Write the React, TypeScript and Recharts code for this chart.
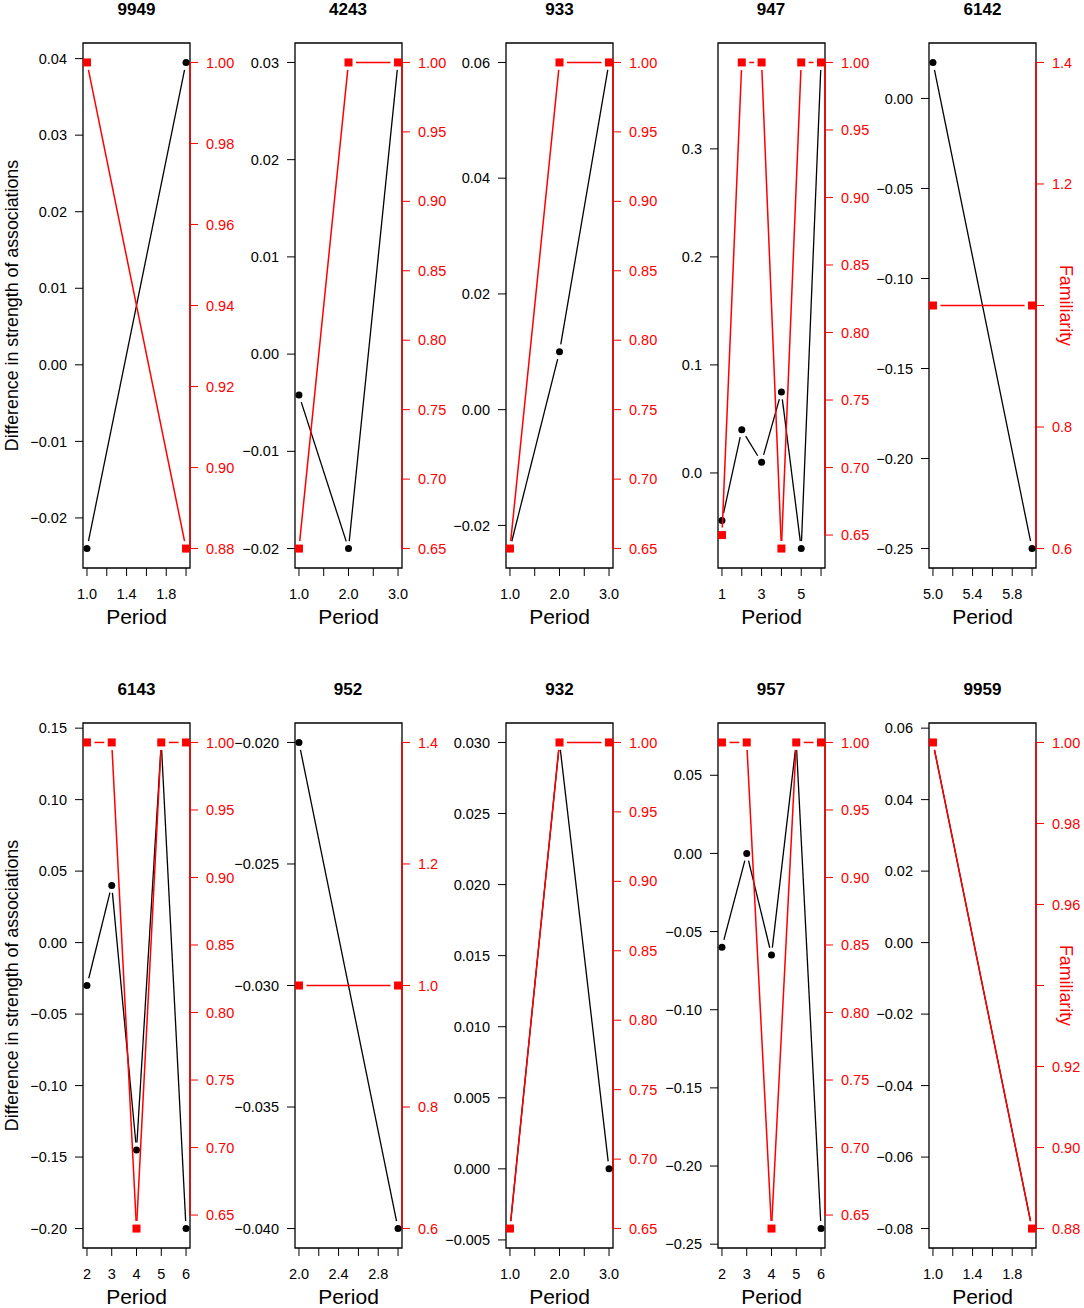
import React from "react";
import {
  LineChart,
  Line,
  XAxis,
  YAxis,
  ReferenceArea,
  ReferenceLine,
} from "recharts";

const ids = ["9949", "4243", "933", "947", "6142", "6143", "952", "932", "957", "9959"];

const periods = [
  [1, 2],
  [1, 2, 3],
  [1, 2, 3],
  [1, 2, 3, 4, 5, 6],
  [5, 6],
  [2, 3, 4, 5, 6],
  [2, 3],
  [1, 2, 3],
  [2, 3, 4, 5, 6],
  [1, 2],
];

// difference in strength of associations (black)
const diffs = [
  [-0.024, 0.0395],
  [-0.0042, -0.02, 0.03],
  [-0.024, 0.01, 0.06],
  [-0.044, 0.04, 0.01, 0.075, -0.07, 0.38],
  [0.02, -0.25],
  [-0.03, 0.04, -0.145, 0.14, -0.2],
  [-0.02, -0.04],
  [-0.0042, 0.03, 0.0],
  [-0.06, 0.0, -0.065, 0.071, -0.24],
  [0.056, -0.08],
];

// familiarity (red)
const fams = [
  [1.0, 0.88],
  [0.65, 1.0, 1.0],
  [0.65, 1.0, 1.0],
  [0.65, 1.0, 1.0, 0.64, 1.0, 1.0],
  [1.0, 1.0],
  [1.0, 1.0, 0.64, 1.0, 1.0],
  [1.0, 1.0],
  [0.65, 1.0, 1.0],
  [1.0, 1.0, 0.64, 1.0, 1.0],
  [1.0, 0.88],
];

const xTicks = [
  [1.0, 1.2, 1.4, 1.6, 1.8, 2.0],
  [1.0, 1.5, 2.0, 2.5, 3.0],
  [1.0, 1.5, 2.0, 2.5, 3.0],
  [1, 2, 3, 4, 5, 6],
  [5.0, 5.2, 5.4, 5.6, 5.8, 6.0],
  [2, 3, 4, 5, 6],
  [2.0, 2.2, 2.4, 2.6, 2.8, 3.0],
  [1.0, 1.5, 2.0, 2.5, 3.0],
  [2, 3, 4, 5, 6],
  [1.0, 1.2, 1.4, 1.6, 1.8, 2.0],
];
const xTickLabels = [
  ["1.0", "", "1.4", "", "1.8", ""],
  ["1.0", "", "2.0", "", "3.0"],
  ["1.0", "", "2.0", "", "3.0"],
  ["1", "", "3", "", "5", ""],
  ["5.0", "", "5.4", "", "5.8", ""],
  ["2", "3", "4", "5", "6"],
  ["2.0", "", "2.4", "", "2.8", ""],
  ["1.0", "", "2.0", "", "3.0"],
  ["2", "3", "4", "5", "6"],
  ["1.0", "", "1.4", "", "1.8", ""],
];

const leftTicks = [
  [-0.02, -0.01, 0, 0.01, 0.02, 0.03, 0.04],
  [-0.02, -0.01, 0, 0.01, 0.02, 0.03],
  [-0.02, 0, 0.02, 0.04, 0.06],
  [0, 0.1, 0.2, 0.3],
  [-0.25, -0.2, -0.15, -0.1, -0.05, 0],
  [-0.2, -0.15, -0.1, -0.05, 0, 0.05, 0.1, 0.15],
  [-0.04, -0.035, -0.03, -0.025, -0.02],
  [-0.005, 0, 0.005, 0.01, 0.015, 0.02, 0.025, 0.03],
  [-0.25, -0.2, -0.15, -0.1, -0.05, 0, 0.05],
  [-0.08, -0.06, -0.04, -0.02, 0, 0.02, 0.04, 0.06],
];
const leftTickLabels = [
  ["−0.02", "−0.01", "0.00", "0.01", "0.02", "0.03", "0.04"],
  ["−0.02", "−0.01", "0.00", "0.01", "0.02", "0.03"],
  ["−0.02", "0.00", "0.02", "0.04", "0.06"],
  ["0.0", "0.1", "0.2", "0.3"],
  ["−0.25", "−0.20", "−0.15", "−0.10", "−0.05", "0.00"],
  ["−0.20", "−0.15", "−0.10", "−0.05", "0.00", "0.05", "0.10", "0.15"],
  ["−0.040", "−0.035", "−0.030", "−0.025", "−0.020"],
  ["−0.005", "0.000", "0.005", "0.010", "0.015", "0.020", "0.025", "0.030"],
  ["−0.25", "−0.20", "−0.15", "−0.10", "−0.05", "0.00", "0.05"],
  ["−0.08", "−0.06", "−0.04", "−0.02", "0.00", "0.02", "0.04", "0.06"],
];

const famTicksA = [0.65, 0.7, 0.75, 0.8, 0.85, 0.9, 0.95, 1.0];
const famLabelsA = ["0.65", "0.70", "0.75", "0.80", "0.85", "0.90", "0.95", "1.00"];
const rightTicks = [
  [0.88, 0.9, 0.92, 0.94, 0.96, 0.98, 1.0],
  famTicksA,
  famTicksA,
  famTicksA,
  [0.6, 0.8, 1.0, 1.2, 1.4],
  famTicksA,
  [0.6, 0.8, 1.0, 1.2, 1.4],
  famTicksA,
  famTicksA,
  [0.88, 0.9, 0.92, 0.94, 0.96, 0.98, 1.0],
];
const rightTickLabels = [
  ["0.88", "0.90", "0.92", "0.94", "0.96", "0.98", "1.00"],
  famLabelsA,
  famLabelsA,
  famLabelsA,
  ["0.6", "0.8", "", "1.2", "1.4"],
  famLabelsA,
  ["0.6", "0.8", "1.0", "1.2", "1.4"],
  famLabelsA,
  famLabelsA,
  ["0.88", "0.90", "0.92", "", "0.96", "0.98", "1.00"],
];

const PANEL_STEP = 211.5;
const ROW_STEP = 680;
const BOX_LEFT = 83;
const BOX_W = 107;
const BOX_TOP = 43;
const BOX_H = 525;
const RIGHT_W = 62;
const XAXIS_H = 60;
const CHART_W = BOX_LEFT + BOX_W + RIGHT_W;
const CHART_H = BOX_TOP + BOX_H + XAXIS_H;
const RED = "#ff0000";
const GAP = 7.5; // type="b": lines stop short of the points
const TICK_FONT = 14.5;

// R style axis range: data range padded by 4% (zero range widened by 40%)
const padRange = (vals: number[]): [number, number] => {
  let lo = Math.min(...vals);
  let hi = Math.max(...vals);
  if (lo === hi) {
    const d = 0.4 * Math.abs(lo);
    lo -= d;
    hi += d;
  }
  const p = (hi - lo) * 0.04;
  return [lo - p, hi + p];
};

const labelFor = (ticks: number[], labels: string[]) => (v: number) => {
  const i = ticks.findIndex((t) => Math.abs(t - v) < 1e-9);
  return i >= 0 ? labels[i] : "";
};

// marker plus the gapped segment to the next point
const makeDot = (color: string, width: number, square: boolean) => (props: any) => {
  const { cx, cy, index, points } = props;
  if (cx == null || cy == null) return <g key={index} />;
  let seg = null;
  if (points && index < points.length - 1) {
    const p = points[index];
    const q = points[index + 1];
    const dx = q.x - p.x;
    const dy = q.y - p.y;
    const len = Math.sqrt(dx * dx + dy * dy);
    if (len > 2 * GAP) {
      const ux = dx / len;
      const uy = dy / len;
      seg = (
        <line
          x1={p.x + ux * GAP}
          y1={p.y + uy * GAP}
          x2={q.x - ux * GAP}
          y2={q.y - uy * GAP}
          stroke={color}
          strokeWidth={width}
        />
      );
    }
  }
  return (
    <g key={index}>
      {seg}
      {square ? (
        <rect x={cx - 4} y={cy - 4} width={8} height={8} fill={color} />
      ) : (
        <circle cx={cx} cy={cy} r={3.5} fill={color} />
      )}
    </g>
  );
};

const BlackDot = makeDot("#000", 1.3, false);
const RedDot = makeDot(RED, 1.5, true);

const Panel = ({ i }: { i: number }) => {
  const col = i % 5;
  const row = Math.floor(i / 5);
  const data = periods[i].map((p, k) => ({ period: p, diff: diffs[i][k], fam: fams[i][k] }));
  const xd = padRange(periods[i]);
  const ld = padRange(diffs[i]);
  const rd = padRange(fams[i]);
  const rt = rightTicks[i];

  const leftLabel =
    col === 0
      ? {
          content: () => {
            const x = 12;
            const y = BOX_TOP + BOX_H / 2;
            return (
              <text
                x={x}
                y={y}
                transform={`rotate(-90, ${x}, ${y})`}
                textAnchor="middle"
                dominantBaseline="central"
                fontSize={17.8}
                fill="#000"
              >
                Difference in strength of associations
              </text>
            );
          },
        }
      : undefined;

  const rightLabel =
    col === 4
      ? {
          content: () => {
            const x = BOX_LEFT + BOX_W + 30;
            const y = BOX_TOP + BOX_H / 2;
            return (
              <text
                x={x}
                y={y}
                transform={`rotate(90, ${x}, ${y})`}
                textAnchor="middle"
                dominantBaseline="central"
                fontSize={17.8}
                fill={RED}
              >
                Familiarity
              </text>
            );
          },
        }
      : undefined;

  return (
    <div
      style={{
        position: "absolute",
        left: col * PANEL_STEP,
        top: row * ROW_STEP,
        width: CHART_W,
        height: CHART_H,
      }}
    >
      <div
        style={{
          position: "absolute",
          left: BOX_LEFT,
          width: BOX_W,
          top: 0,
          height: 20,
          lineHeight: "20px",
          textAlign: "center",
          fontWeight: "bold",
          fontSize: 17,
        }}
      >
        {ids[i]}
      </div>
      <LineChart
        width={CHART_W}
        height={CHART_H}
        data={data}
        margin={{ top: BOX_TOP, right: 0, bottom: 0, left: 0 }}
      >
        <XAxis
          dataKey="period"
          type="number"
          scale="linear"
          domain={xd}
          ticks={xTicks[i]}
          interval={0}
          tickFormatter={labelFor(xTicks[i], xTickLabels[i])}
          height={XAXIS_H}
          axisLine={false}
          tickLine={{ stroke: "#000" }}
          tickSize={8}
          tickMargin={13}
          tick={{ fill: "#000", fontSize: TICK_FONT }}
          label={{ value: "Period", position: "insideBottom", offset: 4, fontSize: 21, fill: "#000" }}
        />
        <YAxis
          yAxisId="left"
          type="number"
          scale="linear"
          domain={ld}
          ticks={leftTicks[i]}
          interval={0}
          tickFormatter={labelFor(leftTicks[i], leftTickLabels[i])}
          width={BOX_LEFT}
          axisLine={false}
          tickLine={{ stroke: "#000" }}
          tickSize={8}
          tickMargin={8}
          tick={{ fill: "#000", fontSize: TICK_FONT }}
          label={leftLabel}
        />
        <YAxis
          yAxisId="right"
          orientation="right"
          type="number"
          scale="linear"
          domain={rd}
          ticks={rt}
          interval={0}
          tickFormatter={labelFor(rt, rightTickLabels[i])}
          width={RIGHT_W}
          axisLine={false}
          tickLine={{ stroke: RED }}
          tickSize={8}
          tickMargin={8}
          tick={{ fill: RED, fontSize: TICK_FONT }}
          label={rightLabel}
        />
        <ReferenceArea
          yAxisId="left"
          x1={xd[0]}
          x2={xd[1]}
          y1={ld[0]}
          y2={ld[1]}
          fill="none"
          stroke="#000"
          strokeWidth={1.3}
          ifOverflow="visible"
        />
        <ReferenceLine
          yAxisId="right"
          segment={[
            { x: xd[1], y: rt[0] },
            { x: xd[1], y: rt[rt.length - 1] },
          ]}
          stroke={RED}
          strokeWidth={1.5}
          ifOverflow="visible"
        />
        <Line
          yAxisId="left"
          dataKey="diff"
          type="linear"
          stroke="none"
          dot={BlackDot}
          activeDot={false}
          isAnimationActive={false}
        />
        <Line
          yAxisId="right"
          dataKey="fam"
          type="linear"
          stroke="none"
          dot={RedDot}
          activeDot={false}
          isAnimationActive={false}
        />
      </LineChart>
    </div>
  );
};

export default function App() {
  return (
    <div
      style={{
        position: "absolute",
        left: 0,
        top: 0,
        width: 1084,
        height: 1308,
        overflow: "hidden",
        background: "#fff",
        fontFamily: "'Liberation Sans', Arial, Helvetica, sans-serif",
      }}
    >
      {ids.map((_, i) => (
        <Panel key={i} i={i} />
      ))}
    </div>
  );
}
